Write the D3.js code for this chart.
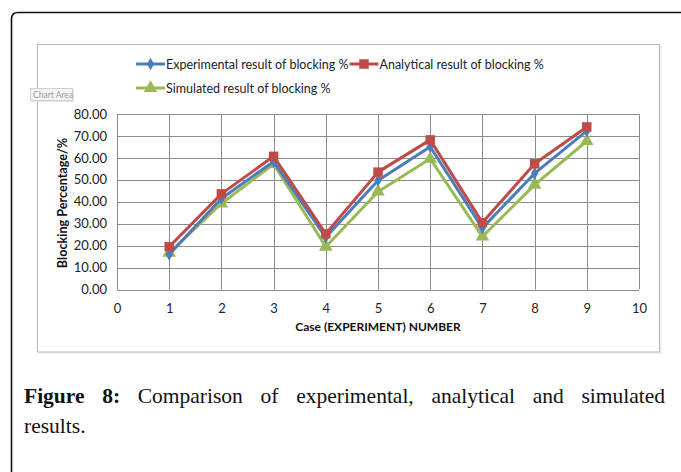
<!DOCTYPE html>
<html>
<head>
<meta charset="utf-8">
<script src="https://cdn.jsdelivr.net/npm/d3@7/dist/d3.min.js"></script>
<style>
  html, body { margin: 0; padding: 0; background: #fff; }
  svg { display: block; }
</style>
</head>
<body>
<script>
// Case numbers and blocking percentages for each method
const cases = [1, 2, 3, 4, 5, 6, 7, 8, 9];
const experimental = [16.0, 41.5, 58.3, 23.8, 49.7, 65.1, 28.0, 52.9, 72.3];
const analytical   = [19.5, 43.6, 60.7, 25.4, 53.5, 68.2, 30.5, 57.3, 74.1];
const simulated    = [16.7, 39.2, 57.2, 19.5, 44.6, 59.6, 24.1, 47.7, 67.7];
const seriesNames = [
  "Experimental result of blocking %",
  "Analytical result of blocking %",
  "Simulated result of blocking %"
];
const xTicks = [0, 1, 2, 3, 4, 5, 6, 7, 8, 9, 10];
const yTicks = [0, 10, 20, 30, 40, 50, 60, 70, 80];
const xTitle = "Case (EXPERIMENT) NUMBER";
const yTitle = "Blocking Percentage/%";
const captionBold = ["Figure", "8:"];
const captionLine1 = "Comparison of experimental, analytical and simulated";
const captionLine2 = "results.";

const W = 681, H = 472;
const svg = d3.select("body").append("svg").attr("width", W).attr("height", H);

// Page frame with rounded top-left corner, running off the right and bottom
svg.append("path")
  .attr("d", "M11.5,480 L11.5,19 Q11.5,12.5 18,12.5 L690,12.5")
  .attr("fill", "none").attr("stroke", "#111").attr("stroke-width", 1.6);

// Chart area box
svg.append("rect").attr("x", 39).attr("y", 46).attr("width", 623).attr("height", 308)
  .attr("fill", "#e6e6e6").attr("opacity", 0.6);
svg.append("rect").attr("x", 37.5).attr("y", 44.5).attr("width", 622).attr("height", 307.5)
  .attr("fill", "#fff").attr("stroke", "#b8b8b8").attr("stroke-width", 1);

const plot = { left: 117, right: 639, top: 114, bottom: 289.5 };
const x = d3.scaleLinear().domain([0, 10]).range([plot.left, plot.right]);
const y = d3.scaleLinear().domain([0, 80]).range([plot.bottom, plot.top]);

const font = "Lato, 'Open Sans', sans-serif";

// Gridlines
const g = svg.append("g");
g.selectAll("line.h").data(yTicks).join("line")
  .attr("x1", plot.left).attr("x2", plot.right)
  .attr("y1", d => Math.round(y(d)) + 0.5).attr("y2", d => Math.round(y(d)) + 0.5)
  .attr("stroke", "#8c8c8c").attr("stroke-width", 1);
g.selectAll("line.v").data(xTicks).join("line")
  .attr("y1", plot.top).attr("y2", plot.bottom)
  .attr("x1", d => Math.round(x(d)) + 0.5).attr("x2", d => Math.round(x(d)) + 0.5)
  .attr("stroke", "#8c8c8c").attr("stroke-width", 1);

// Axes (labels only; the lines come from the grid)
const xAxis = svg.append("g").attr("transform", `translate(0,${plot.bottom})`)
  .call(d3.axisBottom(x).tickValues(xTicks).tickSize(0).tickPadding(14).tickFormat(d3.format("d")));
const yAxis = svg.append("g").attr("transform", `translate(${plot.left},0)`)
  .call(d3.axisLeft(y).tickValues(yTicks).tickSize(0).tickPadding(10).tickFormat(d3.format(".2f")));
[xAxis, yAxis].forEach(a => {
  a.select(".domain").remove();
  a.selectAll("text").attr("font-family", font).attr("font-size", 13).attr("fill", "#222");
});

// Axis titles
svg.append("text").attr("x", (plot.left + plot.right) / 2).attr("y", 331)
  .attr("text-anchor", "middle").attr("font-family", font).attr("font-weight", "bold")
  .attr("font-size", 12).attr("fill", "#111").text(xTitle);
svg.append("text").attr("transform", `translate(67,${203}) rotate(-90)`)
  .attr("text-anchor", "middle").attr("font-family", font).attr("font-weight", "bold")
  .attr("font-size", 12.6).attr("fill", "#111").text(yTitle);

// Series
const colors = ["#4A7EBB", "#BE4B48", "#98B954"];
const symbols = [d3.symbolDiamond, d3.symbolSquare, d3.symbolTriangle];
const sizes = [45, 90, 80];
const allSeries = [experimental, analytical, simulated];
const line = d3.line().x(d => x(d[0])).y(d => y(d[1]));

// draw order: simulated, experimental, analytical (analytical on top)
[2, 0, 1].forEach(i => {
  const pts = cases.map((c, k) => [c, allSeries[i][k]]);
  svg.append("path").datum(pts).attr("d", line)
    .attr("fill", "none").attr("stroke", colors[i]).attr("stroke-width", 3)
    .attr("stroke-linejoin", "round");
  svg.selectAll(null).data(pts).join("path")
    .attr("transform", d => `translate(${x(d[0])},${y(d[1])})`)
    .attr("d", d3.symbol().type(symbols[i]).size(sizes[i]))
    .attr("fill", colors[i]);
});

// Legend
function legendEntry(i, lx, ly) {
  const lg = svg.append("g").attr("transform", `translate(${lx},${ly})`);
  lg.append("line").attr("x1", 0).attr("x2", 29).attr("y1", 0).attr("y2", 0)
    .attr("stroke", colors[i]).attr("stroke-width", 3);
  lg.append("path").attr("transform", "translate(14.5,0)")
    .attr("d", d3.symbol().type(symbols[i]).size(sizes[i]))
    .attr("fill", colors[i]);
  const t = lg.append("text").attr("x", 30).attr("y", 4.5)
    .attr("font-family", font).attr("font-size", 12.5).attr("fill", "#222")
    .text(seriesNames[i]);
  return 30 + t.node().getComputedTextLength();
}
const w0 = legendEntry(0, 136, 64);
legendEntry(1, 136 + w0 + 1, 64);
legendEntry(2, 136, 88);

// "Chart Area" hover tag
const tag = svg.append("g").attr("transform", "translate(30,88)");
tag.append("rect").attr("x", 1.5).attr("y", 1.5).attr("width", 42).attr("height", 12).attr("fill", "#c8c8c8");
tag.append("rect").attr("x", 0.5).attr("y", 0.5).attr("width", 42).attr("height", 12)
  .attr("fill", "#f4f4f4").attr("stroke", "#d0d0d0");
tag.append("text").attr("x", 3).attr("y", 9.5).attr("font-family", font)
  .attr("font-size", 8.5).attr("fill", "#9a9a9a").text("Chart Area");

// Caption, justified across the column
const serif = "'Liberation Serif', 'DejaVu Serif', serif";
const capLeft = 24, capRight = 665, capSize = 21.5;
const words = captionBold.map(t => ({ t, b: true }))
  .concat(captionLine1.split(" ").map(t => ({ t, b: false })));
const capG = svg.append("g");
const nodes = words.map(w => capG.append("text").attr("y", 403)
  .attr("font-family", serif).attr("font-size", capSize).attr("fill", "#111")
  .attr("font-weight", w.b ? "bold" : "normal").text(w.t));
const widths = nodes.map(n => n.node().getComputedTextLength());
const gap = (capRight - capLeft - d3.sum(widths)) / (words.length - 1);
let cx = capLeft;
nodes.forEach((n, k) => { n.attr("x", cx); cx += widths[k] + gap; });
svg.append("text").attr("x", capLeft).attr("y", 433)
  .attr("font-family", serif).attr("font-size", capSize).attr("fill", "#111").text(captionLine2);
</script>
</body>
</html>
